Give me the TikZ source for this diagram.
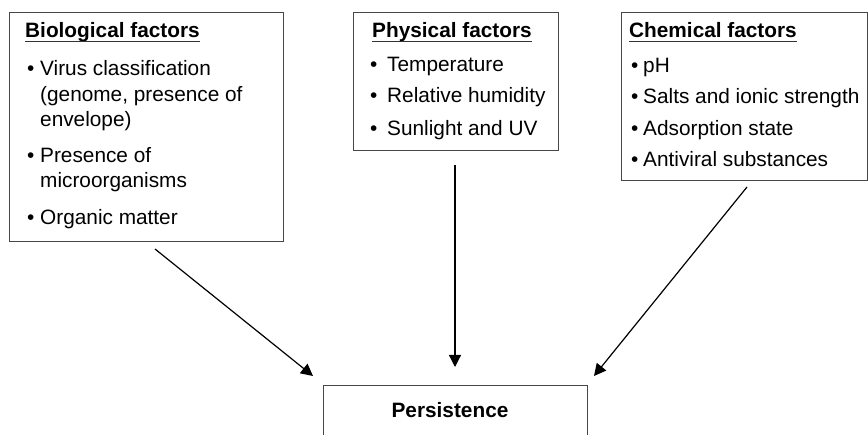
\documentclass[tikz,border=0pt]{standalone}
\usepackage{fontspec}
\setmainfont{Liberation Sans}
\usetikzlibrary{arrows.meta}
\begin{document}
\begin{tikzpicture}[x=1pt,y=-1pt,
  box/.style={draw=black!72, line width=1.3pt, anchor=north west, inner sep=0pt},
  txt/.style={anchor=base west, inner sep=0pt, font=\fontsize{20.8}{25}\selectfont},
  ttl/.style={anchor=base west, inner sep=0pt, font=\fontsize{20.8}{25}\selectfont\bfseries},
  ctr/.style={anchor=base, inner sep=0pt, font=\fontsize{20.8}{25}\selectfont\bfseries},
  arr/.style={line width=1.2pt, -{Triangle[length=12pt,width=12pt]}},
  uline/.style={line width=1.4pt, black!80}]
\useasboundingbox (0,0) rectangle (868,435);
\clip (0,0) rectangle (868,435);
% boxes
\node[box, minimum width=274pt, minimum height=229pt] (bio) at (9,12) {};
\node[box, minimum width=205pt, minimum height=138pt] (phys) at (353,12) {};
\node[box, minimum width=246pt, minimum height=168pt] (chem) at (621,12) {};
\node[box, minimum width=264pt, minimum height=90pt] (per) at (323,385) {};
% biological
\node[ttl] (bt) at (25,38) {Biological factors};
\draw[uline] ([yshift=-3.5pt]bt.base west) -- ([yshift=-3.5pt]bt.base east);
\node[txt] (bb1) at (27,76) {\textbullet};
\node[txt] (b1) at (40,76) {Virus classification};
\node[txt] (b2) at (40,102) {(genome, presence of};
\node[txt] (b3) at (40,127) {envelope)};
\node[txt] (bb2) at (27,163) {\textbullet};
\node[txt] (b4) at (40,163) {Presence of};
\node[txt] (b5) at (40,188) {microorganisms};
\node[txt] (bb3) at (27,225) {\textbullet};
\node[txt] (b6) at (40,225) {Organic matter};
% physical
\node[ttl] (pt) at (372,38) {Physical factors};
\draw[uline] ([yshift=-3.5pt]pt.base west) -- ([yshift=-3.5pt]pt.base east);
\node[txt] (pb1) at (370,72) {\textbullet};
\node[txt] (p1) at (387,72) {Temperature};
\node[txt] (pb2) at (370,103) {\textbullet};
\node[txt] (p2) at (387,103) {Relative humidity};
\node[txt] (pb3) at (370,136) {\textbullet};
\node[txt] (p3) at (387,136) {Sunlight and UV};
% chemical
\node[ttl] (ct) at (629,38) {Chemical factors};
\draw[uline] ([yshift=-3.5pt]ct.base west) -- ([yshift=-3.5pt]ct.base east);
\node[txt] (cb1) at (631,73) {\textbullet};
\node[txt] (c1) at (643,73) {pH};
\node[txt] (cb2) at (631,104) {\textbullet};
\node[txt] (c2) at (643,104) {Salts and ionic strength};
\node[txt] (cb3) at (631,136) {\textbullet};
\node[txt] (c3) at (643,136) {Adsorption state};
\node[txt] (cb4) at (631,167) {\textbullet};
\node[txt] (c4) at (643,167) {Antiviral substances};
% persistence
\node[ctr] (pl) at (450,418) {Persistence};
% arrows
\coordinate (a1s) at (155,249);
\coordinate (a1e) at (313,376);
\coordinate (a2s) at (455,165);
\coordinate (a2e) at (455,367);
\coordinate (a3s) at (747,187);
\coordinate (a3e) at (594,376);
\draw[arr] (a1s) -- (a1e);
\draw[arr] (a2s) -- (a2e);
\draw[arr] (a3s) -- (a3e);
\end{tikzpicture}
\end{document}
